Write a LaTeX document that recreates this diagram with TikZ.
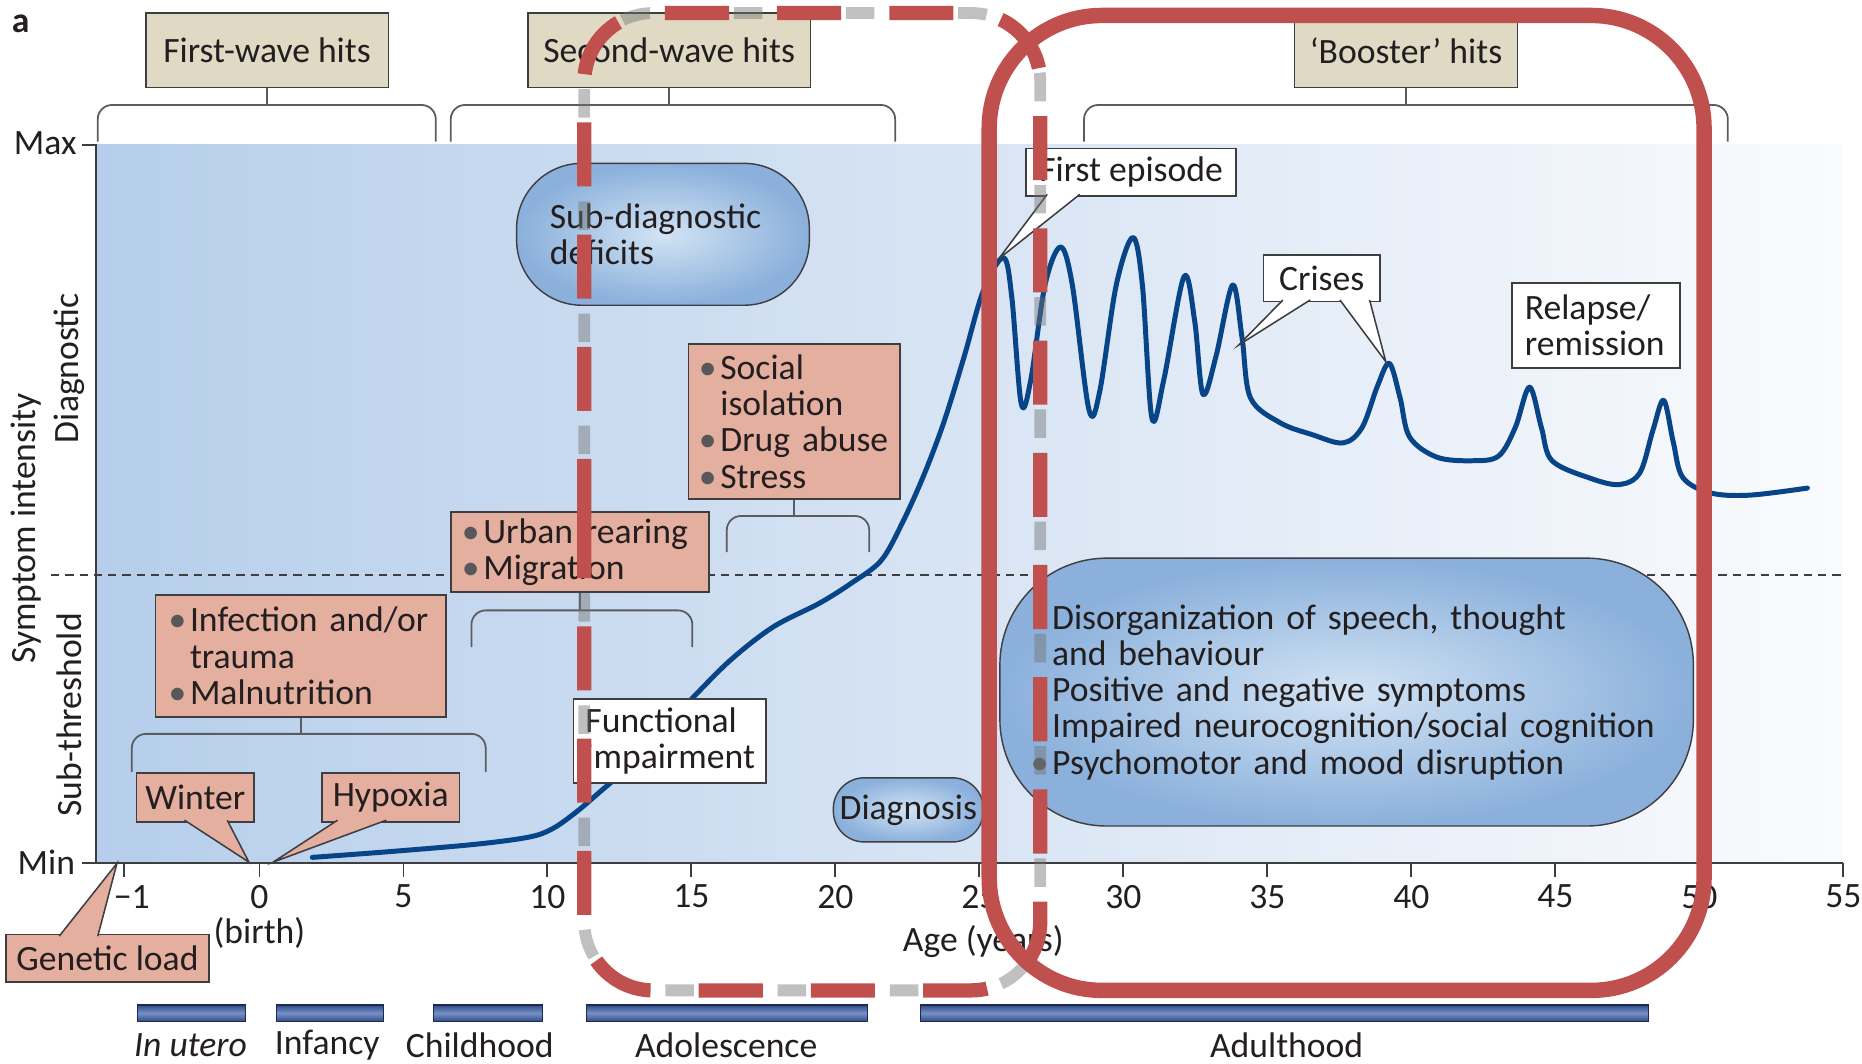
\documentclass[tikz,border=0pt]{standalone}
\usepackage{fontspec}
\setmainfont{Carlito}
\usetikzlibrary{calc}

\definecolor{beige}{RGB}{224,217,196}
\definecolor{pinkbox}{RGB}{229,175,160}
\definecolor{boxline}{RGB}{62,62,64}
\definecolor{bracketgray}{RGB}{90,92,96}
\definecolor{bgleft}{RGB}{182,206,235}
\definecolor{bgmid}{RGB}{210,225,242}
\definecolor{bgright}{RGB}{250,251,253}
\definecolor{blobin}{RGB}{210,227,244}
\definecolor{blobout}{RGB}{138,176,219}
\definecolor{curveblue}{RGB}{8,68,136}
\definecolor{bardark}{RGB}{50,76,138}
\definecolor{barlight}{RGB}{118,144,200}
\definecolor{redmark}{RGB}{192,80,77}
\definecolor{textgray}{RGB}{35,31,32}
\definecolor{bulgray}{RGB}{88,88,90}

\newcommand\mainsz{\fontsize{30}{30.5}\selectfont}
\newcommand\bul{\makebox[0.6em][l]{\textcolor{bulgray}{\textbullet}}}
\newcommand\nobul{\hspace*{0.6em}}

\tikzset{
  every node/.style={font=\mainsz, text=textgray},
  hitbox/.style={draw=boxline, fill=beige, line width=1.4pt, inner sep=0pt},
  riskbox/.style={draw=boxline, fill=pinkbox, line width=1.3pt, inner xsep=9pt, inner ysep=0pt, align=left},
  riskpin/.style={draw=boxline, fill=pinkbox, line width=1.3pt, inner sep=0pt},
  notebox/.style={draw=boxline, fill=white, line width=1.3pt, inner xsep=10pt, inner ysep=0pt, align=left},
  notepin/.style={draw=boxline, fill=white, line width=1.3pt},
  blob/.style={draw=boxline, line width=1.2pt, inner color=blobin, outer color=blobout, rounded corners=#1, inner ysep=0pt},
  bracket/.style={draw=bracketgray, line width=1.5pt, rounded corners=12pt},
  axisline/.style={draw=boxline, line width=1.6pt},
  threshold/.style={draw=boxline, line width=1.3pt, dash pattern=on 7pt off 5pt},
  curve/.style={draw=curveblue, line width=4.2pt, line cap=round, line join=round},
  lifebar/.style={draw=bardark!55!black, line width=1pt, top color=bardark, bottom color=bardark, middle color=barlight},
  redshadow/.style={draw=black!55, opacity=.45, line width=10pt, rounded corners=58pt, dash pattern=on 24pt off 70.5pt, dash phase=-58pt},
  reddash/.style={draw=redmark, line width=12pt, rounded corners=58pt, dash pattern=on 54pt off 40.5pt},
  redframe/.style={draw=redmark, line width=13pt, rounded corners=95pt}
}

\begin{document}
\begin{tikzpicture}[x=1pt, y=-1pt]
\useasboundingbox (0,0) rectangle (1568,896);

% plot area
\shade[left color=bgleft, middle color=bgmid, right color=bgright] (80.8,122) rectangle (1552,726.7);
\draw[threshold] (43,484.2) -- (1552,484.2);

% axes
\draw[axisline] (69,122) -- (80.8,122) -- (80.8,726.7) -- (1552,726.7);
\draw[axisline] (69,726.7) -- (80.8,726.7);
\node (maxlab) at (38,121) {Max};
\node (minlab) at (39,726) {Min};
\foreach \a in {0,5,...,55}{
  \draw[axisline] ({218.5+24.25*\a},726.7) -- ++(0,11.5);
  \node at ({218.5+24.25*\a},755) {\a};
}
\draw[axisline] (104.6,726.7) -- ++(0,11.5);
\node (minusone) at (111,755) {−1};
\node (birth) at (218.5,786) {(birth)};
\node (agelab) at (828,793) {Age (years)};
\node[rotate=90] (symint) at (22,445) {Symptom intensity};
\node[rotate=90] (diaglab) at (58,310) {Diagnostic};
\node[rotate=90] (subth) at (58,602) {Sub-threshold};
\node[font=\fontsize{30}{30}\bfseries\selectfont] (panel) at (17.5,20) {a};

% hits
\node[hitbox, minimum width=204.3pt, minimum height=62.6pt] (firstwave) at (224.9,42.5) {First-wave hits};
\node[hitbox, minimum width=238.3pt, minimum height=62.6pt] (secondwave) at (563.5,42.5) {Second-wave hits};
\node[hitbox, minimum width=188pt, minimum height=62.6pt] (booster) at (1184,42.5) {‘Booster’ hits};
\draw[bracket] (82.3,119.3) |- (367,88.4) -- (367,119.3);
\draw[bracket] (379.6,119.3) |- (753.8,88.4) -- (753.8,119.3);
\draw[bracket] (912.9,119.3) |- (1455,88.4) -- (1455,119.3);
\draw[bracket, rounded corners=0pt] (firstwave.south) -- ++(0,14.6);
\draw[bracket, rounded corners=0pt] (secondwave.south) -- ++(0,14.6);
\draw[bracket, rounded corners=0pt] (booster.south) -- ++(0,14.6);

% course of illness
\draw[curve] plot[smooth, tension=0.55] coordinates {
  (263,722) (330,717) (400,711) (445,705) (465,698) (485,684) (505,667)
  (530,645) (555,617) (581,590) (615,556) (651,528) (690,508) (717,491)
  (742,472) (760,440) (778,400) (795,355) (812,300) (828,245) (845,217)
  (852,250) (860,340) (868,320) (880,240) (893,208) (903,240) (917,345)
  (926,330) (940,240) (954,200) (962,240) (970,352) (980,320) (997,233)
  (1006,270) (1013,332) (1024,300) (1038,240) (1046,285) (1053,335)
  (1078,356) (1105,366) (1131,373) (1147,360) (1160,325) (1170,306)
  (1179,335) (1187,368) (1210,385) (1240,388) (1262,384) (1276,360)
  (1288,326) (1298,360) (1307,388) (1340,403) (1364,408) (1381,398)
  (1392,362) (1401,337) (1409,372) (1417,402) (1440,415) (1473,417) (1522,411)};

% risk factors
\node[riskbox, text width=160.4pt, minimum height=130.3pt] (social) at (668.8,354.9)
  {\bul Social\\\nobul isolation\\\bul Drug abuse\\\bul Stress};
\node[riskbox, text width=199pt, minimum height=67.6pt] (urban) at (488.5,464.8)
  {\bul Urban rearing\\\bul Migration};
\node[riskbox, inner xsep=11pt, text width=222.6pt, minimum height=102.6pt] (infection) at (253.3,552.3)
  {\bul Infection and/or\\\nobul trauma\\\bul Malnutrition};
\draw[bracket] (612,465) |- (732,434.5) -- (732,465);
\draw[bracket, rounded corners=0pt] (social.south) -- ++(0,14.5);
\draw[bracket] (397,545) |- (583,514) -- (583,545);
\draw[bracket, rounded corners=0pt] (urban.south) -- ++(0,15.4);
\draw[bracket] (111,650) |- (409,618) -- (409,650);
\draw[bracket, rounded corners=0pt] (infection.south) -- ++(0,14.4);

\node[riskpin, minimum width=99pt, minimum height=41pt] (winter) at (164.5,671.5) {Winter};
\node[riskpin, minimum width=116pt, minimum height=41pt] (hypoxia) at (329,671.5) {Hypoxia};
\node[riskpin, minimum width=171pt, minimum height=40pt] (genetic) at (90.5,807) {Genetic load};
\coordinate (wintertip) at (209.6,726);
\coordinate (hypoxiatip) at (230,726);
\coordinate (genetictip) at (98.5,727);
\filldraw[riskpin] ($(winter.south west)+(41,-2)$) -- (wintertip) -- ($(winter.south west)+(77,-2)$);
\filldraw[riskpin] ($(hypoxia.south west)+(14,-2)$) -- (hypoxiatip) -- ($(hypoxia.south west)+(55,-2)$);
\filldraw[riskpin] ($(genetic.north west)+(45.5,2)$) -- (genetictip) -- ($(genetic.north west)+(78,2)$);

% notes
\node[notebox, text width=142pt, minimum height=71pt] (functional) at (564,624)
  {Functional\\impairment};
\node[notebox, inner xsep=11pt, text width=119.7pt, minimum height=71.6pt] (relapse) at (1343.9,274.2)
  {Relapse/\\remission};
\node[notepin, inner sep=0pt, minimum width=177pt, minimum height=40pt] (firstep) at (952.5,145) {First episode};
\node[notepin, inner sep=0pt, minimum width=98pt, minimum height=39.3pt] (crises) at (1113,234.3) {Crises};
\coordinate (firsteptip) at (841,218);
\coordinate (crisesltip) at (1043,290.6);
\coordinate (crisesrtip) at (1167,304.6);
\filldraw[notepin] ($(firstep.south west)+(18.5,-2)$) -- (firsteptip) -- ($(firstep.south west)+(46,-2)$);
\filldraw[notepin] ($(crises.south west)+(17,-2)$) -- (crisesltip) -- ($(crises.south west)+(40,-2)$);
\filldraw[notepin] ($(crises.south west)+(65,-2)$) -- (crisesrtip) -- ($(crises.south west)+(90,-2)$);

% symptom blobs
\node[blob=55pt, inner xsep=28pt, text width=190.5pt, minimum height=119.5pt, align=left] (subdiag) at (558.3,197.3)
  {Sub-diagnostic\\deficits};
\node[blob=26pt, inner xsep=0pt, minimum width=126.3pt, minimum height=54pt] (diagnosis) at (764.9,682) {Diagnosis};
\node[blob=90pt, inner xsep=26pt, text width=532pt, minimum height=225.6pt, align=left] (symptoms) at (1134,582.8)
  {\bul Disorganization of speech, thought\\\nobul and behaviour\\\bul Positive and negative symptoms\\
   \bul Impaired neurocognition/social cognition\\\bul Psychomotor and mood disruption};

% life stages
\foreach \xa/\xb in {116/207, 233/323, 365/457, 493.7/730.5, 775/1388}
  \shadedraw[lifebar] (\xa,846.3) rectangle (\xb,860);
\node (utero) at (160.5,880) {\textit{In utero}};
\node (infancy) at (275.5,880) {Infancy};
\node (childhood) at (404,880) {Childhood};
\node (adolescence) at (611.5,880) {Adolescence};
\node (adulthood) at (1083.5,880) {Adulthood};

% highlighted windows
\draw[redshadow] (492,498.5) -- (492,11) -- (876,11) -- (876,834) -- (492,834) -- cycle;
\draw[reddash] (492,498.5) -- (492,11) -- (876,11) -- (876,834) -- (492,834) -- cycle;
\draw[redframe] (833,13) rectangle (1435,834);
\end{tikzpicture}
\end{document}
